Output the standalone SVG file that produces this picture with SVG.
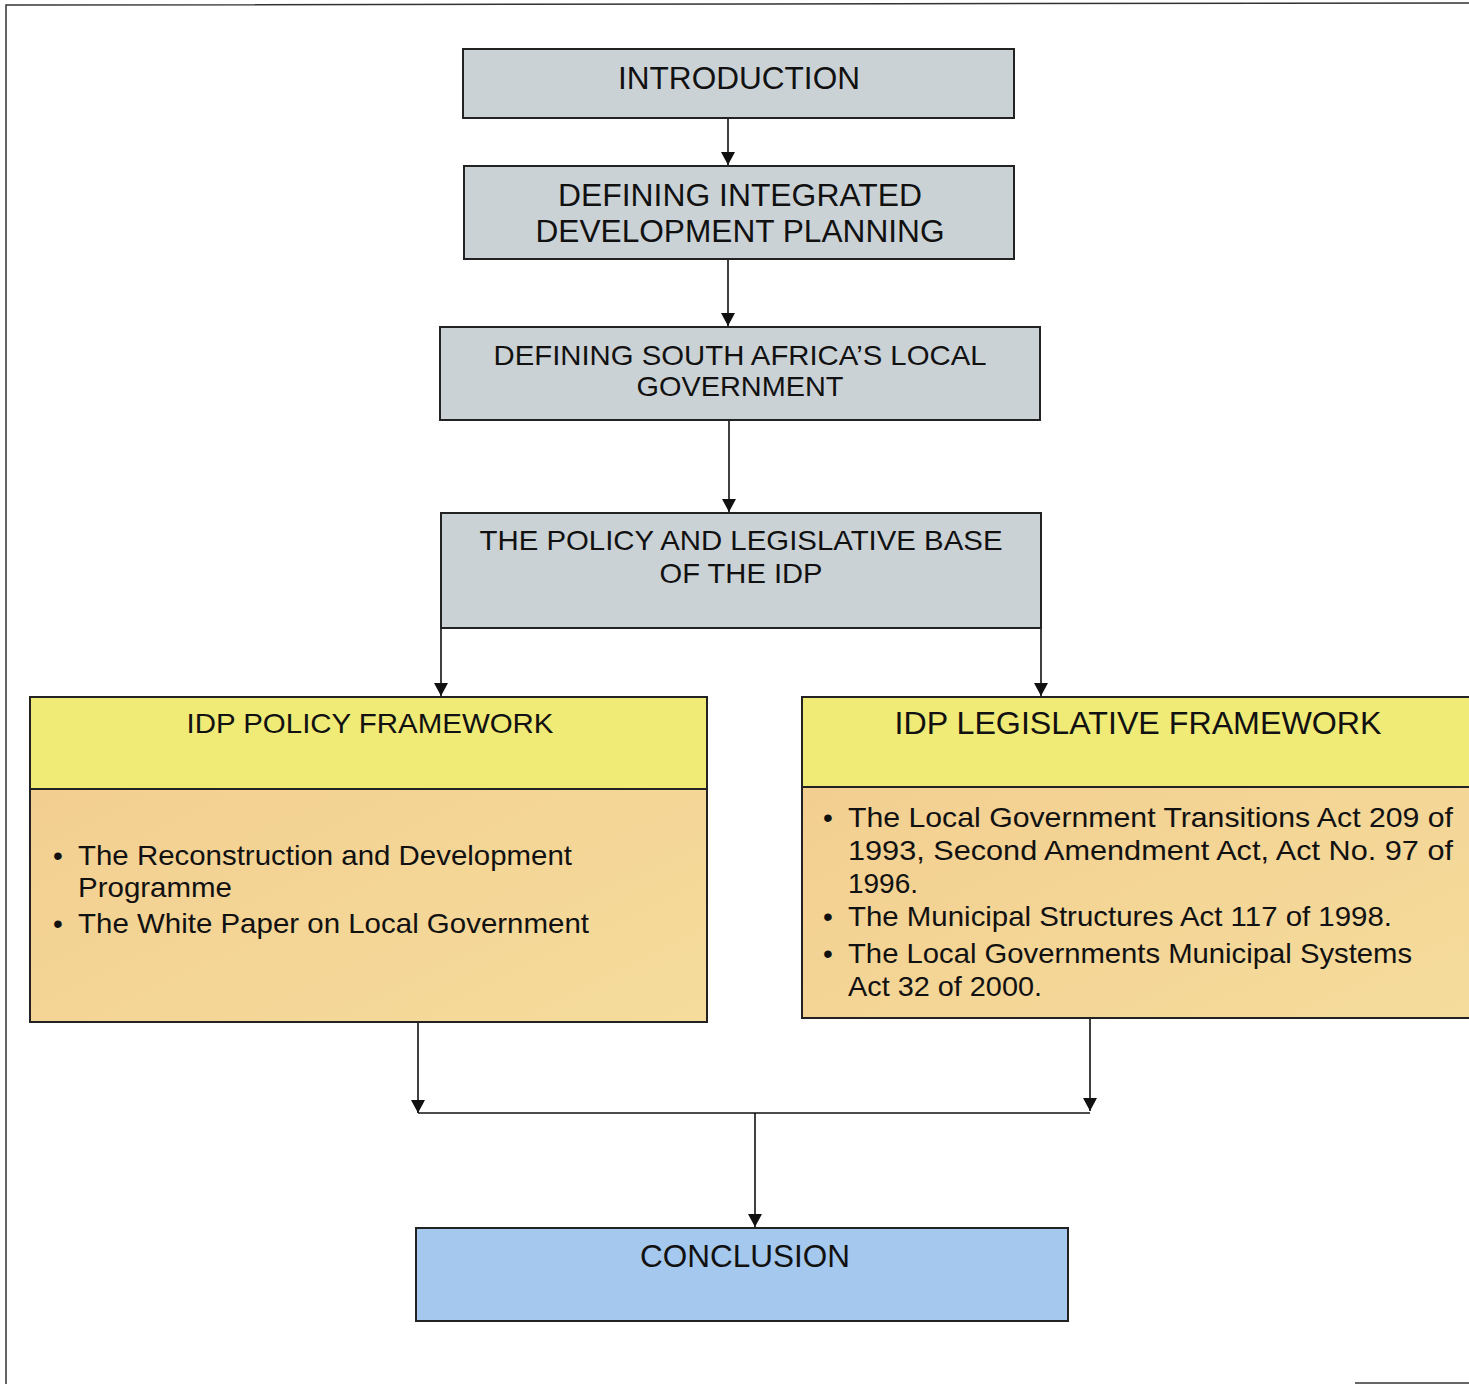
<svg xmlns="http://www.w3.org/2000/svg" width="1469" height="1384" viewBox="0 0 1469 1384">
<style>
.box{stroke:#222;stroke-width:2}
.gray{fill:#cbd2d6}
.yel{fill:#f0eb76}
.org{fill:url(#og)}
.blue{fill:#a5c8ee}
.t{font-family:"Liberation Sans",Arial,sans-serif;fill:#111;text-anchor:middle}
.b{font-family:"Liberation Sans",Arial,sans-serif;fill:#111;font-size:28px}
.c{stroke:#111;stroke-width:1.6;fill:none}
</style>
<defs>
<linearGradient id="og" x1="0" y1="0" x2="1" y2="1">
<stop offset="0" stop-color="#f2cd8f"/>
<stop offset="1" stop-color="#f5dc9c"/>
</linearGradient>
<marker id="ah" markerWidth="13" markerHeight="14" viewBox="0 0 13 14" refX="13" refY="7" orient="auto" markerUnits="userSpaceOnUse">
<path d="M0,0 L13,7 L0,14 Z" fill="#111"/>
</marker>
</defs>
<rect width="1469" height="1384" fill="#fff"/>
<g id="frame" fill="none" stroke="#333" stroke-width="1.5">
<path d="M6,1384 L6,5 L1469,3"/>
<path d="M1355,1383 L1469,1383"/>
</g>
<g id="connectors">
<path class="c" d="M728,118 V165" marker-end="url(#ah)"/>
<path class="c" d="M728,259 V326" marker-end="url(#ah)"/>
<path class="c" d="M729,420 V512" marker-end="url(#ah)"/>
<path class="c" d="M441,628 V696" marker-end="url(#ah)"/>
<path class="c" d="M1041,628 V696" marker-end="url(#ah)"/>
<path class="c" d="M418,1022 V1113" marker-end="url(#ah)"/>
<path class="c" d="M1090,1018 V1111" marker-end="url(#ah)"/>
<path class="c" d="M418,1113 H1090"/>
<path class="c" d="M755,1113 V1227" marker-end="url(#ah)"/>
</g>
<g id="introduction">
<rect class="box gray" x="463" y="49" width="551" height="69"/>
<text class="t" x="739" y="89" font-size="31" textLength="242" lengthAdjust="spacingAndGlyphs">INTRODUCTION</text>
</g>
<g id="defining-idp">
<rect class="box gray" x="464" y="166" width="550" height="93"/>
<text class="t" x="740" y="206" font-size="31" textLength="364" lengthAdjust="spacingAndGlyphs">DEFINING INTEGRATED</text>
<text class="t" x="740" y="242" font-size="31" textLength="409" lengthAdjust="spacingAndGlyphs">DEVELOPMENT PLANNING</text>
</g>
<g id="defining-local-gov">
<rect class="box gray" x="440" y="327" width="600" height="93"/>
<text class="t" x="740" y="365" font-size="28" textLength="493" lengthAdjust="spacingAndGlyphs">DEFINING SOUTH AFRICA’S LOCAL</text>
<text class="t" x="740" y="396" font-size="28" textLength="207" lengthAdjust="spacingAndGlyphs">GOVERNMENT</text>
</g>
<g id="policy-base">
<rect class="box gray" x="441" y="513" width="600" height="115"/>
<text class="t" x="741" y="550" font-size="28" textLength="523" lengthAdjust="spacingAndGlyphs">THE POLICY AND LEGISLATIVE BASE</text>
<text class="t" x="741" y="583" font-size="28" textLength="163" lengthAdjust="spacingAndGlyphs">OF THE IDP</text>
</g>
<g id="policy-framework">
<rect class="box org" x="30" y="697" width="677" height="325"/>
<rect class="box yel" x="30" y="697" width="677" height="92"/>
<text class="t" x="370" y="733" font-size="28" textLength="367" lengthAdjust="spacingAndGlyphs">IDP POLICY FRAMEWORK</text>
<text class="b" x="53" y="865">•</text>
<text class="b" x="78" y="865" textLength="494" lengthAdjust="spacingAndGlyphs">The Reconstruction and Development</text>
<text class="b" x="78" y="897" textLength="154" lengthAdjust="spacingAndGlyphs">Programme</text>
<text class="b" x="53" y="933">•</text>
<text class="b" x="78" y="933" textLength="511" lengthAdjust="spacingAndGlyphs">The White Paper on Local Government</text>
</g>
<g id="legislative-framework">
<rect class="box org" x="802" y="697" width="680" height="321"/>
<rect class="box yel" x="802" y="697" width="680" height="90"/>
<text class="t" x="1138" y="734" font-size="31" textLength="487" lengthAdjust="spacingAndGlyphs">IDP LEGISLATIVE FRAMEWORK</text>
<text class="b" x="823" y="827">•</text>
<text class="b" x="848" y="827" textLength="605" lengthAdjust="spacingAndGlyphs">The Local Government Transitions Act 209 of</text>
<text class="b" x="848" y="860" textLength="605" lengthAdjust="spacingAndGlyphs">1993, Second Amendment Act, Act No. 97 of</text>
<text class="b" x="848" y="893" textLength="70" lengthAdjust="spacingAndGlyphs">1996.</text>
<text class="b" x="823" y="926">•</text>
<text class="b" x="848" y="926" textLength="544" lengthAdjust="spacingAndGlyphs">The Municipal Structures Act 117 of 1998.</text>
<text class="b" x="823" y="963">•</text>
<text class="b" x="848" y="963" textLength="564" lengthAdjust="spacingAndGlyphs">The Local Governments Municipal Systems</text>
<text class="b" x="848" y="996" textLength="194" lengthAdjust="spacingAndGlyphs">Act 32 of 2000.</text>
</g>
<g id="conclusion">
<rect class="box blue" x="416" y="1228" width="652" height="93"/>
<text class="t" x="745" y="1267" font-size="31" textLength="210" lengthAdjust="spacingAndGlyphs">CONCLUSION</text>
</g>
</svg>
